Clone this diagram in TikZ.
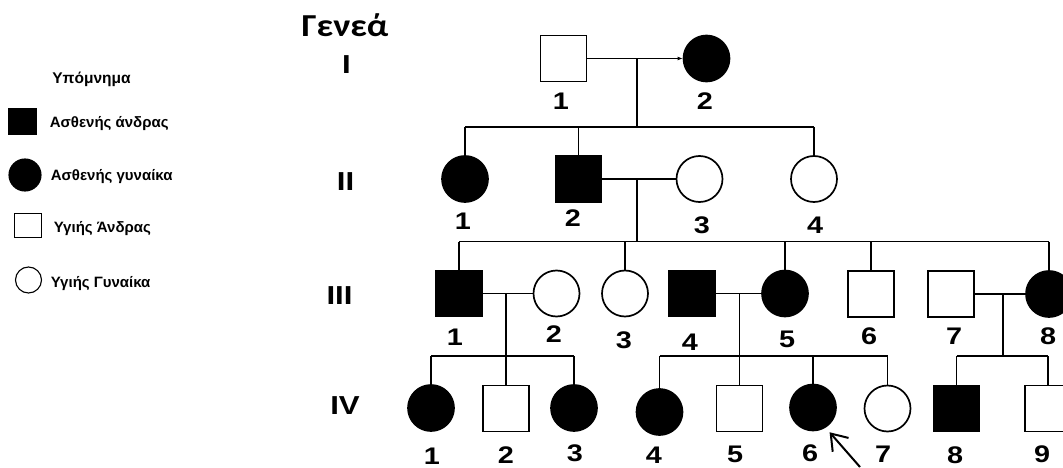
\documentclass[tikz,border=0pt]{standalone}
\usepackage{fontspec}
\setmainfont{Liberation Sans}
\newfontfamily\carlito{Carlito}
\usetikzlibrary{arrows.meta}
\newcommand\Dg[1]{\scalebox{1.2}[1]{\fontsize{24}{24}\selectfont\bfseries #1}}
\newcommand\Rn[1]{\scalebox{1.2}[1]{\fontsize{26}{26}\selectfont\bfseries #1}}
\newcommand\Lg[1]{{\fontsize{15}{15}\selectfont\bfseries #1}}
\begin{document}
\begin{tikzpicture}[x=1pt,y=-1pt,
  line width=1.7pt,
  sq/.style={draw, rectangle, minimum size=46pt, inner sep=0pt},
  ci/.style={draw, circle, minimum size=46pt, inner sep=0pt},
  aff/.style={fill=black},
  num/.style={inner sep=0pt},
  gen/.style={inner sep=0pt},
  leg/.style={anchor=base west, inner sep=0pt},
  legshape/.style={draw, line width=1.1pt, inner sep=0pt},
  proband/.style={line width=2pt, -{Straight Barb[length=15pt,width=21pt]}},
  tiny/.style={-{Latex[length=5pt,width=4pt]}},
]
\clip (0,0) rectangle (1063,468);
\fill[white] (0,0) rectangle (1063,468);

% ---------- legend ----------
\node[leg, anchor=base] (legtitle) at (91.5,84) {\fontsize{15.5}{15.5}\selectfont\bfseries Υπόμνημα};
\node[legshape, fill=black, minimum width=28pt, minimum height=26pt] (lg1) at (22.5,121.5) {};
\node[leg] (lt1) at (49,128) {\Lg{Ασθενής άνδρας}};
\node[legshape, circle, fill=black, minimum size=32pt] (lg2) at (25,175) {};
\node[leg] (lt2) at (50,180) {\Lg{Ασθενής γυναίκα}};
\node[legshape, minimum width=27pt, minimum height=24pt] (lg3) at (28,225.5) {};
\node[leg] (lt3) at (53,232) {\Lg{Υγιής Άνδρας}};
\node[legshape, circle, minimum size=26pt] (lg4) at (28.5,280) {};
\node[leg] (lt4) at (50,287) {\Lg{Υγιής Γυναίκα}};

% ---------- generation labels ----------
\node[inner sep=0pt, anchor=base] (geneatitle) at (345,37) {\scalebox{1.14}[1]{\carlito\fontsize{32}{32}\selectfont\bfseries Γενεά}};
\node[gen] (gI) at (346.5,64.5) {\Rn{I}};
\node[gen] (gII) at (345.5,181.5) {\Rn{II}};
\node[gen] (gIII) at (339.5,296) {\Rn{III}};
\node[gen] (gIV) at (345,406) {\Rn{IV}};

% ---------- generation I ----------
\node[sq] (I1) at (563.5,58.5) {};
\node[ci, aff] (I2) at (706.5,58.5) {};
\node[num] (lI1) at (561,101.5) {\Dg{1}};
\node[num] (lI2) at (705,101) {\Dg{2}};
\coordinate (m1) at (637,58.5);
\coordinate (d1) at (637,127);
\draw[tiny] (I1.east) -- (I2.west);
\draw (m1) -- (d1);

% ---------- generation II ----------
\node[ci, aff] (II1) at (465,179) {};
\node[sq, aff] (II2) at (578.5,179) {};
\node[ci] (II3) at (699.5,179) {};
\node[ci] (II4) at (814,179) {};
\node[num] (lII1) at (463,221) {\Dg{1}};
\node[num] (lII2) at (573,218) {\Dg{2}};
\node[num] (lII3) at (702,225) {\Dg{3}};
\node[num] (lII4) at (815,225) {\Dg{4}};
\draw (II1.north |- d1) -- (II4.north |- d1);
\foreach \n in {II1,II2,II4} \draw (\n.north |- d1) -- (\n.north);
\coordinate (m2) at (637,179);
\coordinate (d2) at (637,241.5);
\draw (II2.east) -- (II3.west);
\draw (m2) -- (d2);

% ---------- generation III ----------
\node[sq, aff] (III1) at (459,293.5) {};
\node[ci] (III2) at (556.5,293.5) {};
\node[ci] (III3) at (625,293.5) {};
\node[sq, aff] (III4) at (692,293.5) {};
\node[ci, aff] (III5) at (785,293.5) {};
\node[sq] (III6) at (871,294) {};
\node[sq] (III7) at (951,294) {};
\node[ci, aff] (III8) at (1049,294) {};
\node[num] (lIII1) at (455,337) {\Dg{1}};
\node[num] (lIII2) at (554,334) {\Dg{2}};
\node[num] (lIII3) at (624,340) {\Dg{3}};
\node[num] (lIII4) at (690,342) {\Dg{4}};
\node[num] (lIII5) at (787,339) {\Dg{5}};
\node[num] (lIII6) at (869,336) {\Dg{6}};
\node[num] (lIII7) at (954,336) {\Dg{7}};
\node[num] (lIII8) at (1048,336) {\Dg{8}};
\draw (III1.north |- d2) -- (III8.north |- d2);
\foreach \n in {III1,III3,III5,III6,III8} \draw (\n.north |- d2) -- (\n.north);

\coordinate (m3) at (506,293.5);
\coordinate (d3) at (506,356);
\draw (III1.east) -- (III2.west);
\draw (m3) -- (d3);
\coordinate (m4) at (739.5,293.5);
\coordinate (d4) at (739.5,356);
\draw (III4.east) -- (III5.west);
\draw (m4) -- (d4);
\coordinate (m5) at (1003,294);
\coordinate (d5) at (1003,356);
\draw (III7.east) -- (III8.west);
\draw (m5) -- (d5);

% ---------- generation IV ----------
\node[ci, aff] (IV1) at (431,408) {};
\node[sq] (IV2) at (506,408.5) {};
\node[ci, aff] (IV3) at (574,408) {};
\node[ci, aff] (IV4) at (659.5,412) {};
\node[sq] (IV5) at (739.5,408.5) {};
\node[ci, aff] (IV6) at (813,407.5) {};
\node[ci] (IV7) at (887.5,408.5) {};
\node[sq, aff] (IV8) at (956.5,408.5) {};
\node[sq] (IV9) at (1048,408.5) {};
\node[num] (lIV1) at (432,456) {\Dg{1}};
\node[num] (lIV2) at (506,455) {\Dg{2}};
\node[num] (lIV3) at (575,453) {\Dg{3}};
\node[num] (lIV4) at (654,455) {\Dg{4}};
\node[num] (lIV5) at (735,454) {\Dg{5}};
\node[num] (lIV6) at (810,453) {\Dg{6}};
\node[num] (lIV7) at (883,454) {\Dg{7}};
\node[num] (lIV8) at (955,455) {\Dg{8}};
\node[num] (lIV9) at (1042,454) {\Dg{9}};

\draw (IV1.north |- d3) -- (IV3.north |- d3);
\foreach \n in {IV1,IV2,IV3} \draw (\n.north |- d3) -- (\n.north);
\draw (IV4.north |- d4) -- (IV7.north |- d4);
\foreach \n in {IV4,IV5,IV6,IV7} \draw (\n.north |- d4) -- (\n.north);
\draw (IV8.north |- d5) -- (IV9.north |- d5);
\foreach \n in {IV8,IV9} \draw (\n.north |- d5) -- (\n.north);

% proband arrow
\coordinate (ptail) at (860,467);
\draw[proband, shorten >=6pt] (ptail) -- (IV6.-58);
\end{tikzpicture}
\end{document}
